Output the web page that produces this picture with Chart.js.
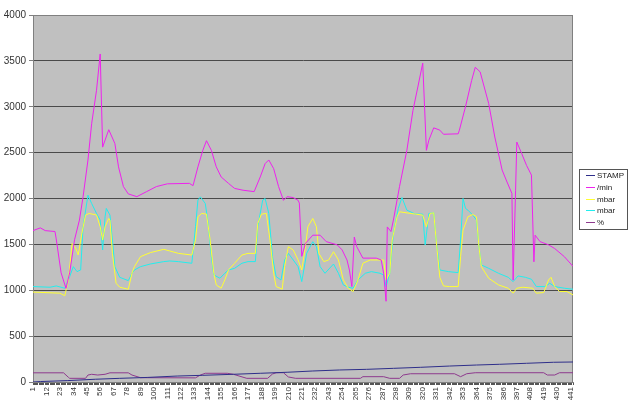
<!DOCTYPE html>
<html>
<head>
<meta charset="utf-8">
<script src="https://cdn.jsdelivr.net/npm/chart.js@4/dist/chart.umd.min.js"></script>
<style>
  html, body { margin: 0; padding: 0; background: #ffffff; }
  canvas { display: block; }
</style>
</head>
<body>
<canvas id="logChart" width="631" height="411"></canvas>
<script>
// sample count and the labelled categories on the x axis
const sampleCount = 443;
const xTickLabels = [1, 12, 23, 34, 45, 56, 67, 78, 89, 100, 111, 122, 133, 144, 155, 166, 177, 188, 199, 210,
    221, 232, 243, 254, 265, 276, 287, 298, 309, 320, 331, 342, 353, 364, 375, 386, 397, 408, 419, 430, 441];
const yTicks = [0, 500, 1000, 1500, 2000, 2500, 3000, 3500, 4000];

// values (sample number -> value)
const stampX = [1, 7, 29, 52, 72, 95, 119, 140, 165, 187, 209, 230, 252, 274, 296, 318, 342, 364, 383, 405, 427, 443];
const stampY = [0, 5, 15, 30, 40, 50, 65, 73, 84, 95, 106, 120, 131, 138, 149, 160, 174, 185, 193, 204, 215, 218];

const flowX = [1, 7, 11, 19, 20, 24, 28, 31, 35, 39, 42, 46, 49, 53, 56, 58, 63, 68, 71, 75, 79, 86, 94, 102, 111,
    129, 132, 136, 140, 143, 147, 151, 155, 161, 166, 173, 182, 187, 191, 194, 198, 202, 206, 209, 214, 218, 219,
    221, 224, 230, 236, 241, 250, 254, 258, 260, 262, 264, 266, 271, 282, 286, 288, 290, 291, 294, 296, 301, 307,
    312, 316, 320, 323, 325, 329, 334, 337, 349, 350, 355, 360, 363, 367, 374, 379, 385, 389, 393, 394, 396, 397,
    401, 405, 409, 411, 412, 416, 423, 428, 436, 443];
const flowY = [1650, 1680, 1650, 1640, 1560, 1190, 1020, 1190, 1550, 1765, 2020, 2420, 2815, 3180, 3575, 2560, 2750,
    2600, 2345, 2130, 2050, 2020, 2075, 2130, 2160, 2165, 2140, 2345, 2525, 2630, 2525, 2345, 2235, 2165, 2110,
    2090, 2075, 2235, 2380, 2420, 2325, 2130, 1980, 2020, 2010, 1980, 1950, 1370, 1510, 1600, 1600, 1530, 1495,
    1440, 1330, 1220, 1040, 1580, 1475, 1350, 1350, 1330, 1185, 880, 1690, 1640, 1765, 2130, 2525, 2960, 3215,
    3475, 2525, 2635, 2770, 2745, 2700, 2705, 2745, 3000, 3285, 3430, 3380, 3035, 2670, 2310, 2180, 2055, 1110,
    2090, 2615, 2490, 2360, 2255, 1310, 1600, 1530, 1495, 1455, 1365, 1260];

const mbarAX = [1, 23, 27, 30, 33, 36, 38, 41, 44, 47, 53, 56, 58, 60, 63, 64, 66, 69, 72, 79, 82, 84, 89, 97, 108,
    113, 120, 131, 134, 136, 139, 143, 146, 149, 151, 155, 158, 161, 166, 172, 177, 183, 185, 188, 192, 195, 198,
    200, 205, 207, 210, 214, 218, 221, 224, 226, 230, 233, 235, 239, 243, 247, 251, 255, 259, 263, 267, 271, 277,
    288, 290, 293, 295, 299, 301, 314, 320, 323, 326, 329, 331, 334, 337, 342, 349, 351, 353, 357, 361, 364, 366,
    368, 374, 382, 390, 394, 397, 402, 410, 413, 419, 423, 425, 428, 432, 438, 443];
const mbarAY = [980, 968, 940, 1112, 1510, 1457, 1385, 1620, 1820, 1837, 1820, 1692, 1547, 1692, 1783, 1765, 1402,
    1076, 1033, 1011, 1185, 1257, 1366, 1410, 1446, 1428, 1402, 1384, 1547, 1801, 1837, 1830, 1547, 1185, 1058,
    1022, 1112, 1221, 1294, 1384, 1402, 1402, 1728, 1830, 1837, 1547, 1185, 1040, 1011, 1257, 1475, 1439, 1330,
    1221, 1475, 1692, 1783, 1692, 1402, 1312, 1330, 1420, 1330, 1112, 1022, 986, 1112, 1294, 1330, 1330, 1112,
    1185, 1547, 1801, 1855, 1830, 1819, 1692, 1837, 1844, 1547, 1140, 1047, 1040, 1040, 1366, 1656, 1801, 1826,
    1801, 1475, 1257, 1131, 1058, 1022, 968, 1022, 1033, 1022, 968, 975, 1112, 1141, 1040, 986, 986, 949];

const mbarBX = [1, 15, 20, 27, 30, 34, 37, 40, 42, 46, 49, 53, 56, 58, 60, 61, 64, 66, 68, 72, 79, 82, 84, 89, 97,
    108, 113, 120, 131, 134, 136, 138, 142, 144, 147, 149, 154, 158, 161, 166, 172, 177, 183, 185, 189, 191, 194,
    197, 200, 204, 207, 210, 214, 218, 221, 225, 230, 233, 236, 240, 247, 251, 255, 259, 263, 267, 273, 278, 285,
    288, 290, 293, 296, 300, 303, 307, 314, 320, 322, 325, 329, 331, 334, 341, 349, 351, 353, 355, 357, 361, 364,
    366, 368, 374, 382, 390, 394, 398, 404, 409, 413, 420, 424, 428, 436, 443];
const mbarBY = [1040, 1033, 1047, 1022, 1112, 1257, 1203, 1221, 1692, 2036, 1946, 1837, 1765, 1439, 1801, 1892, 1819,
    1547, 1257, 1141, 1105, 1185, 1221, 1257, 1286, 1312, 1319, 1312, 1294, 1692, 1982, 2018, 1946, 1765, 1366,
    1167, 1131, 1185, 1221, 1239, 1294, 1312, 1312, 1692, 1982, 2000, 1837, 1366, 1149, 1112, 1330, 1402, 1330,
    1257, 1094, 1402, 1529, 1475, 1257, 1185, 1286, 1185, 1058, 1033, 1022, 1112, 1185, 1203, 1185, 1167, 1040,
    1185, 1620, 1892, 2011, 1873, 1830, 1830, 1493, 1837, 1844, 1547, 1221, 1203, 1192, 1547, 2000, 1892, 1873,
    1819, 1765, 1475, 1276, 1239, 1185, 1141, 1094, 1156, 1141, 1120, 1040, 1040, 1076, 1040, 1022, 1011];

const pctX = [1, 26, 30, 31, 44, 46, 49, 54, 60, 64, 79, 82, 89, 134, 138, 142, 160, 165, 176, 193, 197, 200, 206,
    210, 216, 269, 271, 288, 293, 301, 304, 310, 346, 351, 356, 363, 419, 422, 428, 432, 443];
const pctY = [100, 100, 51, 40, 40, 76, 84, 76, 84, 100, 100, 76, 47, 45, 76, 95, 95, 84, 40, 40, 87, 101, 101,
    55, 40, 40, 58, 58, 40, 40, 76, 90, 90, 58, 90, 101, 101, 76, 76, 101, 101];

function points(xs, ys) {
    return xs.map((x, i) => ({ x: x, y: ys[i] }));
}

const plotBackground = {
    id: 'plotBackground',
    beforeDraw(chart) {
        const { ctx, chartArea: a } = chart;
        ctx.save();
        ctx.fillStyle = '#c0c0c0';
        ctx.fillRect(a.left, a.top, a.right - a.left, a.bottom - a.top);
        ctx.restore();
    },
    beforeDatasetsDraw(chart) {
        const { ctx, chartArea: a } = chart;
        ctx.save();
        ctx.strokeStyle = '#808080';
        ctx.lineWidth = 1;
        ctx.strokeRect(a.left + 0.5, a.top + 0.5, a.right - a.left - 1, a.bottom - a.top);
        ctx.restore();
    }
};

// Excel style boxed legend to the right of the plot
const boxLegend = {
    id: 'boxLegend',
    afterDraw(chart) {
        const ctx = chart.ctx;
        const sets = chart.data.datasets;
        const left = 579, top = 169, width = 48, rowH = 11.8;
        ctx.save();
        ctx.fillStyle = '#ffffff';
        ctx.fillRect(left, top, width, rowH * sets.length + 1);
        ctx.strokeStyle = '#555555';
        ctx.lineWidth = 1;
        ctx.strokeRect(left + 0.5, top + 0.5, width, rowH * sets.length + 1);
        ctx.font = '8px "Liberation Sans", Arial, sans-serif';
        ctx.textBaseline = 'middle';
        sets.forEach((ds, i) => {
            const y = Math.round(top + 6 + i * rowH) + 0.5;
            ctx.strokeStyle = ds.borderColor;
            ctx.beginPath();
            ctx.moveTo(left + 7, y);
            ctx.lineTo(left + 16, y);
            ctx.stroke();
            ctx.fillStyle = '#222222';
            ctx.fillText(ds.label, left + 18, y);
        });
        ctx.restore();
    }
};

const series = [
    { label: 'STAMP', data: points(stampX, stampY), borderColor: '#2e2e8a' },
    { label: '/min', data: points(flowX, flowY), borderColor: '#ee22ee' },
    { label: 'mbar', data: points(mbarAX, mbarAY), borderColor: '#ffff33' },
    { label: 'mbar', data: points(mbarBX, mbarBY), borderColor: '#22eeee' },
    { label: '%', data: points(pctX, pctY), borderColor: '#8e3a8e' }
];

new Chart(document.getElementById('logChart'), {
    type: 'line',
    data: {
        datasets: series.map(s => Object.assign({
            borderWidth: 1,
            pointRadius: 0,
            tension: 0,
            fill: false
        }, s))
    },
    options: {
        responsive: false,
        animation: false,
        devicePixelRatio: 1,
        layout: { padding: { top: 15, right: 58, left: 0, bottom: 0 } },
        plugins: {
            legend: { display: false },
            tooltip: { enabled: false }
        },
        scales: {
            x: {
                type: 'linear',
                min: 1,
                max: sampleCount,
                afterBuildTicks(scale) {
                    const t = [];
                    for (let i = 1; i <= sampleCount; i++) t.push({ value: i });
                    scale.ticks = t;
                },
                afterFit(scale) { scale.height = 29; },
                ticks: {
                    autoSkip: false,
                    minRotation: 90,
                    maxRotation: 90,
                    padding: 2,
                    color: '#333333',
                    font: { family: '"Liberation Sans", Arial, sans-serif', size: 8 },
                    callback: v => xTickLabels.includes(v) ? String(v) : ''
                },
                grid: {
                    drawOnChartArea: false,
                    drawTicks: true,
                    tickLength: 3,
                    color: '#555555'
                },
                border: { display: true, color: '#808080' }
            },
            y: {
                min: 0,
                max: 4000,
                afterBuildTicks(scale) {
                    scale.ticks = yTicks.map(v => ({ value: v }));
                },
                afterFit(scale) { scale.width = 33; },
                ticks: {
                    padding: 3,
                    color: '#333333',
                    font: { family: '"Liberation Sans", Arial, sans-serif', size: 10 },
                    callback: v => String(v)
                },
                grid: {
                    color: '#4a4a4a',
                    tickColor: '#808080',
                    tickLength: 4
                },
                border: { display: true, color: '#808080' }
            }
        }
    },
    plugins: [plotBackground, boxLegend]
});
</script>
</body>
</html>
